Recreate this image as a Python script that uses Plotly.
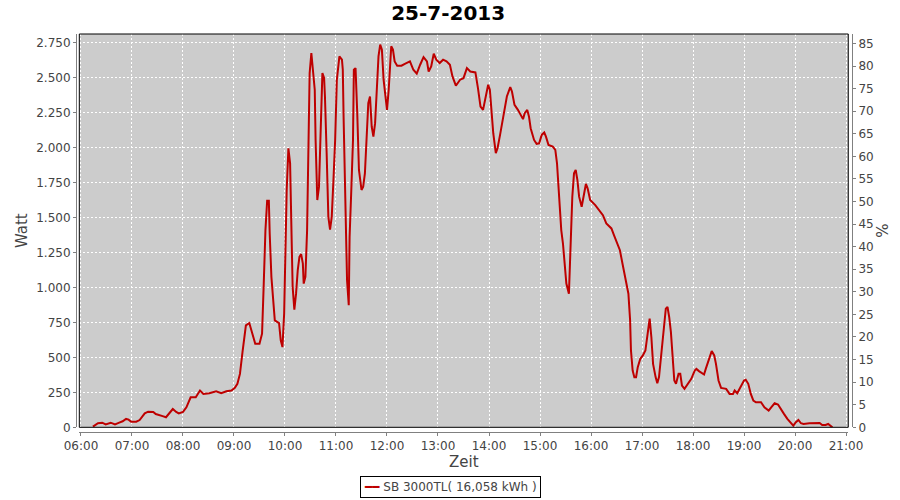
import plotly.graph_objects as go

DAY = "2013-07-25 "

times = [
    "06:14", "06:20", "06:25", "06:29", "06:35", "06:40", "06:45", "06:49", "06:53", "06:56",
    "06:59", "07:05", "07:09", "07:15", "07:19", "07:25", "07:28", "07:32", "07:36", "07:40",
    "07:44", "07:48", "07:52", "07:55", "08:00", "08:04", "08:09", "08:15", "08:20", "08:24",
    "08:31", "08:39", "08:45", "08:51", "08:57", "09:01", "09:04", "09:07", "09:10", "09:14",
    "09:18", "09:22", "09:25", "09:30", "09:33", "09:35", "09:37", "09:39", "09:41", "09:42",
    "09:44", "09:48", "09:53", "09:55", "09:57", "09:59", "10:01", "10:02", "10:04", "10:06",
    "10:08", "10:09", "10:11", "10:13", "10:15", "10:17", "10:19", "10:21", "10:22", "10:24",
    "10:26", "10:27", "10:28", "10:29", "10:31", "10:33", "10:35", "10:36", "10:37", "10:38",
    "10:40", "10:42", "10:44", "10:46", "10:47", "10:49", "10:50", "10:51", "10:53", "10:55",
    "10:57", "10:59", "11:01", "11:04", "11:07", "11:08", "11:09", "11:10", "11:11", "11:13",
    "11:15", "11:16", "11:18", "11:20", "11:21", "11:23", "11:25", "11:27", "11:30", "11:32",
    "11:34", "11:36", "11:38", "11:40", "11:42", "11:44", "11:46", "11:48", "11:50", "11:52",
    "11:54", "11:56", "11:58", "12:00", "12:02", "12:04", "12:05", "12:07", "12:09", "12:12",
    "12:17", "12:21", "12:27", "12:31", "12:35", "12:39", "12:43", "12:47", "12:49", "12:52",
    "12:55", "12:58", "13:02", "13:06", "13:10", "13:14", "13:17", "13:21", "13:26", "13:30",
    "13:34", "13:38", "13:42", "13:44", "13:47", "13:50", "13:53", "13:56", "13:59", "14:01",
    "14:03", "14:05", "14:08", "14:10", "14:13", "14:16", "14:21", "14:25", "14:27", "14:30",
    "14:34", "14:40", "14:42", "14:45", "14:47", "14:49", "14:53", "14:56", "14:59", "15:02",
    "15:05", "15:07", "15:10", "15:15", "15:18", "15:20", "15:22", "15:23", "15:25", "15:27",
    "15:29", "15:31", "15:34", "15:35", "15:37", "15:38", "15:40", "15:42", "15:44", "15:46",
    "15:49", "15:52", "15:54", "15:56", "15:59", "16:05", "16:09", "16:14", "16:18", "16:24",
    "16:27", "16:31", "16:34", "16:37", "16:41", "16:44", "16:46", "16:47", "16:49", "16:51",
    "16:53", "16:55", "16:58", "17:01", "17:04", "17:06", "17:08", "17:09", "17:11", "17:13",
    "17:16", "17:18", "17:20", "17:22", "17:24", "17:26", "17:28", "17:30", "17:32", "17:34",
    "17:36", "17:38", "17:40", "17:43", "17:45", "17:47", "17:50", "17:54", "17:58", "18:02",
    "18:04", "18:07", "18:13", "18:15", "18:19", "18:22", "18:25", "18:27", "18:30", "18:33",
    "18:39", "18:43", "18:47", "18:49", "18:52", "18:56", "19:00", "19:02", "19:05", "19:08",
    "19:11", "19:14", "19:20", "19:24", "19:29", "19:32", "19:36", "19:40", "19:43", "19:47",
    "19:51", "19:55", "19:58", "20:01", "20:04", "20:07", "20:10", "20:17", "20:29", "20:32",
    "20:36", "20:39", "20:42", "20:44",
]

watt = [
    5, 29, 33, 21, 33, 21, 33, 43, 60, 55,
    40, 40, 52, 100, 112, 110, 95, 90, 80, 72,
    100, 131, 110, 100, 110, 143, 215, 215, 263, 239,
    244, 258, 244, 258, 263, 282, 311, 382, 538, 729,
    746, 670, 598, 598, 670, 1028, 1411, 1621, 1621, 1387,
    1076, 765, 746, 622, 574, 813, 1411, 1698, 1996, 1889,
    1291, 1004, 842, 956, 1124, 1219, 1239, 1171, 1028, 1076,
    1411, 1889, 2295, 2534, 2678, 2558, 2415, 2056, 1769, 1626,
    1722, 2128, 2534, 2499, 2367, 1961, 1769, 1506, 1415, 1506,
    1769, 2056, 2486, 2654, 2630, 2558, 2200, 1937, 1602, 1052,
    873, 1363, 1698, 2056, 2558, 2570, 2248, 1841, 1698, 1722,
    1817, 2080, 2319, 2367, 2152, 2080, 2176, 2415, 2654, 2738,
    2702, 2487, 2367, 2271, 2415, 2630, 2726, 2702, 2618, 2587,
    2587, 2601, 2618, 2558, 2530, 2594, 2649, 2618, 2546, 2582,
    2673, 2630, 2606, 2630, 2618, 2594, 2511, 2444, 2487, 2498,
    2570, 2546, 2539, 2539, 2427, 2295, 2271, 2367, 2451, 2415,
    2224, 2104, 1961, 1996, 2092, 2200, 2367, 2434, 2403, 2307,
    2271, 2205, 2248, 2271, 2224, 2140, 2056, 2028, 2032, 2092,
    2109, 2080, 2020, 2008, 1985, 1889, 1698, 1530, 1411, 1315,
    1172, 1028, 956, 1172, 1435, 1650, 1817, 1841, 1769, 1650,
    1578, 1674, 1741, 1710, 1626, 1590, 1554, 1518, 1459, 1423,
    1375, 1315, 1267, 1172, 1052, 956, 765, 550, 406, 359,
    359, 430, 490, 514, 550, 646, 765, 777, 646, 454,
    359, 316, 359, 478, 646, 765, 849, 861, 789, 681,
    478, 335, 311, 383, 383, 299, 275, 311, 347, 406,
    418, 402, 378, 418, 490, 545, 514, 454, 335, 282,
    275, 239, 239, 263, 244, 287, 335, 340, 311, 239,
    191, 179, 179, 143, 120, 143, 172, 163, 131, 96,
    60, 29, 12, 36, 53, 29, 24, 29, 31, 17,
    17, 24, 12, 0,
]

series_name = "SB 3000TL( 16,058 kWh )"
chart_title = "25-7-2013"

x_vals = [DAY + t for t in times]

FONT = "DejaVu Sans"
TXT = "#444444"
AX = "#808080"
LINE = "#BE0000"

fig = go.Figure()
fig.add_trace(go.Scatter(
    x=x_vals, y=watt, mode="lines", name=series_name,
    line=dict(color=LINE, width=2), showlegend=False,
))
fig.add_trace(go.Scatter(x=[None], y=[None], yaxis="y2", showlegend=False,
                         hoverinfo="skip", mode="lines"))

fig.update_layout(
    width=900, height=500,
    margin=dict(l=76, r=48, t=34, b=68, autoexpand=False),
    paper_bgcolor="white",
    plot_bgcolor="#CCCCCC",
    separators=",.",
    font=dict(family=FONT, size=12, color=TXT),
    title=dict(text=chart_title, x=0.498, xanchor="center", y=0.975, yanchor="middle",
               font=dict(family=FONT, size=20, color="black", weight="bold")),
    showlegend=False,
    xaxis=dict(
        type="date",
        domain=[0.00425, 0.9952],
        anchor="free", position=0,
        range=[DAY + "05:58:00", DAY + "21:02:40"],
        tick0=DAY + "06:00", dtick=3600000, tickformat="%H:%M",
        showgrid=True, gridcolor="white", griddash="2px,2px", gridwidth=1,
        showline=True, linecolor=AX, linewidth=1,
        ticks="outside", ticklen=3, tickcolor=AX,
        tickfont=dict(family=FONT, size=12, color=TXT),
        title=dict(text="Zeit", font=dict(family=FONT, size=15, color=TXT), standoff=3),
        zeroline=False, automargin=False,
    ),
    yaxis=dict(
        domain=[0.0118, 1],
        anchor="free", position=0,
        range=[0, 2814],
        tick0=0, dtick=250, tickformat=",d",
        showgrid=True, gridcolor="white", griddash="2px,2px", gridwidth=1,
        showline=True, linecolor=AX, linewidth=1,
        ticks="outside", ticklen=3, tickcolor=AX,
        tickfont=dict(family=FONT, size=12, color=TXT),
        title=dict(text="Watt", font=dict(family=FONT, size=15, color=TXT), standoff=3),
        zeroline=False, automargin=False,
    ),
    yaxis2=dict(
        overlaying="y", side="right",
        anchor="free", position=1,
        range=[0, 87.1],
        tick0=0, dtick=5,
        showgrid=False,
        showline=True, linecolor=AX, linewidth=1,
        ticks="outside", ticklen=3, tickcolor=AX,
        tickfont=dict(family=FONT, size=12, color=TXT),
        title=dict(text="%", font=dict(family=FONT, size=15, color=TXT), standoff=4),
        zeroline=False, automargin=False,
    ),
)

fig.add_shape(type="rect", xref="x domain", yref="y domain", x0=0, x1=1, y0=0, y1=1,
              line=dict(color="black", width=1), fillcolor="rgba(0,0,0,0)", layer="above")

# legend box (single series) below the axis title
fig.add_annotation(
    xref="paper", yref="paper", x=0.482, y=-0.1394, xanchor="center", yanchor="middle",
    text=f"<span style='color:{LINE}'>━━</span> {series_name}",
    showarrow=False, font=dict(family=FONT, size=12, color=TXT),
    bordercolor="black", borderwidth=1, borderpad=3, bgcolor="white",
)

fig.write_html("out.html", config={"displayModeBar": False},
               post_script="document.body.style.margin='0';")
